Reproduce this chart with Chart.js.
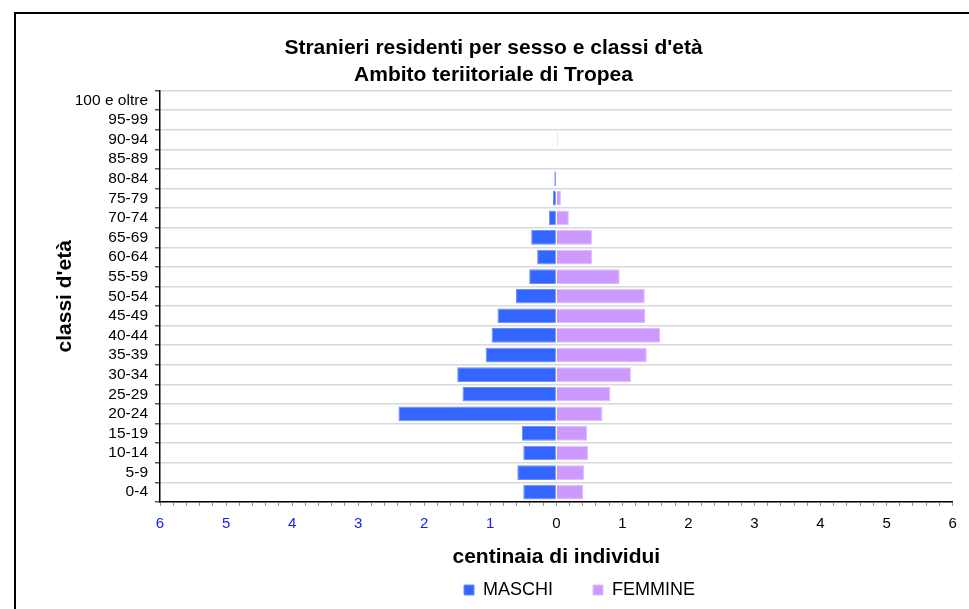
<!DOCTYPE html>
<html>
<head>
<meta charset="utf-8">
<title>Stranieri residenti per sesso e classi d'età</title>
<script src="https://cdn.jsdelivr.net/npm/chart.js@4.4.1/dist/chart.umd.min.js"></script>
<style>
  html, body { margin: 0; padding: 0; background: #fff; overflow: hidden; }
  #frame { position: absolute; left: 14px; top: 12px; width: 1000px; height: 700px;
           border-left: 2px solid #000; border-top: 2px solid #000; }
  #wrap { position: absolute; left: 16px; top: 14px; width: 955px; height: 595px; }
</style>
</head>
<body>
<div id="frame"></div>
<div id="wrap"><canvas id="piramide"></canvas></div>
<script>
// classi d'età, dal basso verso l'alto
const classi = ['0-4', '5-9', '10-14', '15-19', '20-24', '25-29', '30-34', '35-39', '40-44', '45-49',
  '50-54', '55-59', '60-64', '65-69', '70-74', '75-79', '80-84', '85-89', '90-94', '95-99', '100 e oltre'];

// centinaia di individui
const maschi = [0.50, 0.59, 0.50, 0.52, 2.39, 1.42, 1.50, 1.07, 0.98, 0.89,
  0.61, 0.41, 0.29, 0.38, 0.11, 0.05, 0.03, 0, 0, 0, 0];
const femmine = [0.41, 0.42, 0.48, 0.47, 0.70, 0.82, 1.13, 1.37, 1.57, 1.35,
  1.34, 0.96, 0.54, 0.54, 0.19, 0.07, 0, 0.01, 0.02, 0.01, 0.01];

// etichette dell'asse x (valori interi, i maschi a sinistra)
const valoriX = [-6, -5, -4, -3, -2, -1, 0, 1, 2, 3, 4, 5, 6];

const titolo = ["Stranieri residenti per sesso e classi d'età", 'Ambito teriitoriale di Tropea'];

Chart.defaults.font.family = "'Liberation Sans', Arial, sans-serif";
Chart.defaults.color = '#000';

// sposta la legenda a destra, come nell'originale
const spostaLegenda = {
  id: 'spostaLegenda',
  afterLayout(chart, args, opts) {
    const lg = chart.legend;
    if (!lg) return;
    lg.left += opts.dx;
    lg.right += opts.dx;
  }
};

new Chart(document.getElementById('piramide'), {
  type: 'bar',
  data: {
    labels: classi,
    datasets: [
      {
        label: 'MASCHI',
        data: maschi.map(v => -v),
        backgroundColor: '#3366ff',
        borderColor: '#6a8eff',
        borderWidth: 1
      },
      {
        label: 'FEMMINE',
        data: femmine,
        backgroundColor: '#cc99ff',
        borderColor: '#dfc0ff',
        borderWidth: 1
      }
    ]
  },
  options: {
    indexAxis: 'y',
    responsive: true,
    maintainAspectRatio: false,
    animation: false,
    categoryPercentage: 1.0,
    barPercentage: 0.75,
    layout: { padding: { left: 18.4, right: 18.4, top: 0, bottom: 0 } },
    scales: {
      x: {
        stacked: true,
        min: -6,
        max: 6,
        afterFit: s => { s.height = 39; },
        ticks: {
          stepSize: 0.2,
          autoSkip: false,
          maxRotation: 0,
          padding: 9,
          font: { size: 15 },
          color: ctx => (ctx.tick && ctx.tick.value < -0.001) ? '#1a1aff' : '#000',
          callback: v => {
            const i = valoriX.findIndex(t => Math.abs(t - v) < 1e-6);
            return i < 0 ? '' : String(Math.abs(valoriX[i]));
          }
        },
        grid: { drawOnChartArea: false, tickLength: 4, color: '#999' },
        border: { color: '#000', width: 1.5 },
        title: {
          display: true,
          text: 'centinaia di individui',
          font: { size: 21, weight: 'bold' },
          padding: { top: 0, bottom: -28.6 }
        }
      },
      y: {
        stacked: true,
        reverse: true,
        afterFit: s => { s.width = 125.6; },
        ticks: { padding: 7, font: { size: 15.5 }, autoSkip: false },
        grid: { color: '#d9d9d9', lineWidth: 1.5, tickLength: 5, tickColor: '#555' },
        border: { color: '#000', width: 1.5 },
        title: {
          display: true,
          text: "classi d'età",
          font: { size: 21, weight: 'bold' },
          padding: { top: 18.5, bottom: 0 }
        }
      }
    },
    plugins: {
      title: {
        display: true,
        text: titolo,
        font: { size: 21, weight: 'bold', lineHeight: 27 / 21 },
        padding: { top: 21, bottom: 1.5 }
      },
      legend: {
        position: 'bottom',
        labels: { boxWidth: 10, boxHeight: 10, padding: 40, font: { size: 18 } }
      },
      tooltip: { enabled: false },
      spostaLegenda: { dx: 86 }
    }
  },
  plugins: [spostaLegenda]
});
</script>
</body>
</html>
